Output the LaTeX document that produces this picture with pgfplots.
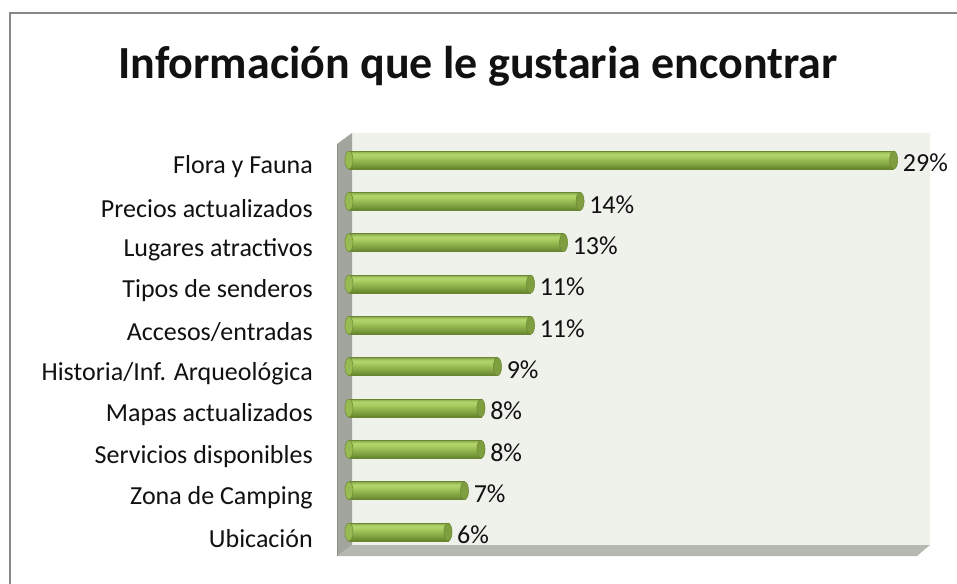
\documentclass[border=0pt]{standalone}
\usepackage{pgfplots}
\pgfplotsset{compat=1.18}
\usepackage{fontspec}
\setmainfont{Carlito}
\definecolor{wallback}{HTML}{EFF1EB}
\definecolor{wallfloor}{HTML}{B5B8B0}
\definecolor{wallleft}{HTML}{A2A59D}
\definecolor{wallline}{HTML}{8C8F87}
\definecolor{barline}{HTML}{6A8632}
\definecolor{capcol}{HTML}{7F9E3F}
\definecolor{frame}{HTML}{878787}
\definecolor{txt}{HTML}{111111}
\definecolor{cA}{HTML}{61802B}
\definecolor{cB}{HTML}{7A9A3C}
\definecolor{cC}{HTML}{97BB52}
\definecolor{cD}{HTML}{ACCF65}
\definecolor{cE}{HTML}{B2D46B}
\definecolor{cF}{HTML}{98B955}
\definecolor{cG}{HTML}{86A648}
\pgfdeclareverticalshading{cylbar}{100bp}{color(0bp)=(cA); color(25bp)=(cA); color(35bp)=(cB); color(50bp)=(cC); color(60bp)=(cD); color(67bp)=(cE); color(72bp)=(cF); color(75bp)=(cG); color(100bp)=(cG)}

\pgfplotsset{cyl/.style={xbar, bar width=18pt, bar shift=0pt, draw=barline, line width=0.5pt,
  shade, shading=cylbar,
  point meta=explicit symbolic,
  nodes near coords={\pgfplotspointmeta\%},
  every node near coord/.append style={txt, font=\fontsize{26}{30}\selectfont, anchor=west, xshift=9pt, yshift=-3pt, inner sep=0pt}}}

\begin{document}
\begin{tikzpicture}[x=1pt,y=1pt]
\useasboundingbox (0,0) rectangle (957,-583);
% frame
\draw[frame, line width=2pt] (10,-590) -- (10,-13) -- (965,-13);
% title
\node[txt, font=\fontsize{46}{52}\selectfont\bfseries] at (478,-66) {Información que le gustaria encontrar};
% walls
\fill[wallback] (352,-133) rectangle (930,-545);
\fill[wallfloor] (352,-545) -- (930,-545) -- (917,-556) -- (337,-556) -- cycle;
\fill[wallleft] (352,-133) -- (352,-545) -- (337,-556) -- (337,-144) -- cycle;
\draw[wallline, line width=1pt] (337,-144) -- (337,-556);
\begin{axis}[
  at={(343pt,-556pt)}, anchor=south west,
  scale only axis, width=587pt, height=423pt,
  xmin=-0.36, xmax=35.2,
  ymin=-0.653, ymax=9.58, y dir=reverse,
  axis lines=none,
  clip=false,
]
% left caps
\addplot[only marks, mark=*, mark size=9pt, mark options={xscale=0.45, fill=cC, draw=barline, line width=0.5pt}]
  coordinates {(0,0) (0,1) (0,2) (0,3) (0,4) (0,5) (0,6) (0,7) (0,8) (0,9)};
\addplot[cyl] coordinates {(33,0) [29]};
\addplot[cyl] coordinates {(14,1) [14]};
\addplot[cyl] coordinates {(13,2) [13]};
\addplot[cyl] coordinates {(11,3) [11]};
\addplot[cyl] coordinates {(11,4) [11]};
\addplot[cyl] coordinates {(9,5) [9]};
\addplot[cyl] coordinates {(8,6) [8]};
\addplot[cyl] coordinates {(8,7) [8]};
\addplot[cyl] coordinates {(7,8) [7]};
\addplot[cyl] coordinates {(6,9) [6]};
% right caps
\addplot[only marks, mark=*, mark size=9pt, mark options={xscale=0.45, fill=capcol, draw=barline, line width=0.5pt}]
  coordinates {(33,0) (14,1) (13,2) (11,3) (11,4) (9,5) (8,6) (8,7) (7,8) (6,9)};
\end{axis}
% category labels
\foreach \t [count=\i from 0] in {Flora y Fauna,Precios actualizados,Lugares atractivos,Tipos de senderos,Accesos/entradas,Historia/Inf. Arqueológica,Mapas actualizados,Servicios disponibles,Zona de Camping,Ubicación}
  \node[txt, anchor=east, inner sep=0pt, font=\fontsize{26}{30}\selectfont] at (313,{-167-41.33*\i}) {\t};
\end{tikzpicture}
\end{document}
